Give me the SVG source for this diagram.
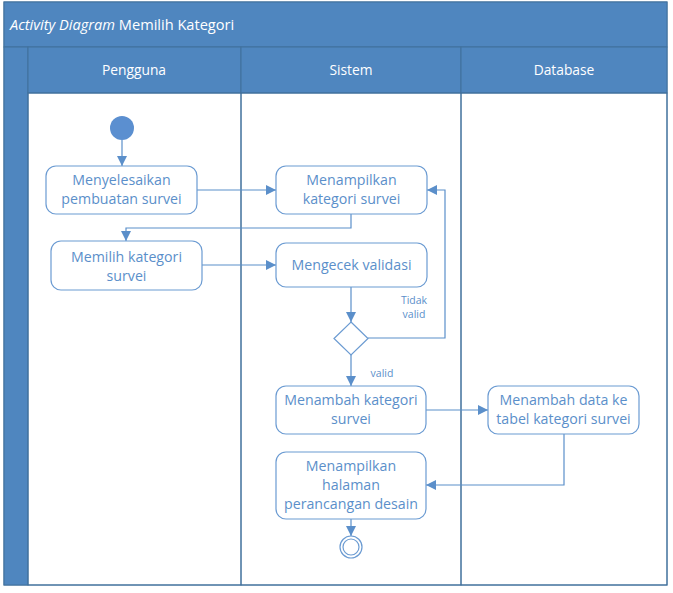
<svg xmlns="http://www.w3.org/2000/svg" width="673" height="593" viewBox="0 0 673 593">
<style>
.hdr{fill:#4f86bf;stroke:#41719c;stroke-width:1}
.ht{font-family:"Open Sans","Liberation Sans",sans-serif;font-size:13.8px;fill:#ffffff;text-anchor:middle}
.node{fill:#ffffff;stroke:#6b9bd2;stroke-width:1.2}
.nt{font-family:"Open Sans","Liberation Sans",sans-serif;font-size:14.2px;fill:#5b8fca;text-anchor:middle}
.lbl{font-family:"Open Sans","Liberation Sans",sans-serif;font-size:10.5px;fill:#5b8fca;text-anchor:middle}
.cn{fill:none;stroke:#5b8fca;stroke-width:1.2}
</style>
<defs>
<marker id="arr" viewBox="0 0 10 10" refX="10" refY="5" markerWidth="10" markerHeight="10" markerUnits="userSpaceOnUse" orient="auto">
<path d="M0,0 L10,5 L0,10 z" fill="#5b8fca"/>
</marker>
</defs>
<rect x="0" y="0" width="673" height="593" fill="#ffffff"/>
<g id="frame">
<rect x="4" y="2" width="663" height="583" fill="#ffffff" stroke="#41719c" stroke-width="1"/>
<rect class="hdr" x="4" y="2" width="663" height="45"/>
<text x="10" y="30" font-family="'Open Sans','Liberation Sans',sans-serif" font-size="14.6" fill="#ffffff"><tspan font-style="italic">Activity Diagram</tspan> Memilih Kategori</text>
<rect class="hdr" x="4" y="47" width="24" height="538"/>
</g>
<g id="lane-pengguna">
<rect class="hdr" x="28" y="47" width="213" height="46"/>
<text class="ht" x="134" y="75">Pengguna</text>
<rect x="28" y="93" width="213" height="492" fill="none" stroke="#41719c" stroke-width="1"/>
</g>
<g id="lane-sistem">
<rect class="hdr" x="241" y="47" width="220" height="46"/>
<text class="ht" x="351" y="75">Sistem</text>
<rect x="241" y="93" width="220" height="492" fill="none" stroke="#41719c" stroke-width="1"/>
</g>
<g id="lane-database">
<rect class="hdr" x="461" y="47" width="206" height="46"/>
<text class="ht" x="564" y="75">Database</text>
<rect x="461" y="93" width="206" height="492" fill="none" stroke="#41719c" stroke-width="1"/>
</g>
<g id="connectors">
<path class="cn" d="M122,140 V166" marker-end="url(#arr)"/>
<path class="cn" d="M197,190 H276" marker-end="url(#arr)"/>
<path class="cn" d="M351,214 V228 H126 V241" marker-end="url(#arr)"/>
<path class="cn" d="M202,265 H276" marker-end="url(#arr)"/>
<path class="cn" d="M351,287 V322" marker-end="url(#arr)"/>
<path class="cn" d="M368,338 H445 V190 H427" marker-end="url(#arr)"/>
<path class="cn" d="M351,355 V386" marker-end="url(#arr)"/>
<path class="cn" d="M426,410 H488" marker-end="url(#arr)"/>
<path class="cn" d="M564,434 V485 H426" marker-end="url(#arr)"/>
<path class="cn" d="M351,519 V536" marker-end="url(#arr)"/>
<text class="lbl" x="414" y="304">Tidak</text>
<text class="lbl" x="414" y="318">valid</text>
<text class="lbl" x="382" y="377">valid</text>
</g>
<g id="start">
<circle cx="122" cy="128" r="12" fill="#5b8fd0"/>
</g>
<g id="n1">
<rect class="node" x="46" y="166" width="151" height="48" rx="10"/>
<text class="nt" x="121.5" y="185">Menyelesaikan</text>
<text class="nt" x="121.5" y="204">pembuatan survei</text>
</g>
<g id="n2">
<rect class="node" x="276" y="166" width="151" height="48" rx="10"/>
<text class="nt" x="351.5" y="185">Menampilkan</text>
<text class="nt" x="351.5" y="204">kategori survei</text>
</g>
<g id="n3">
<rect class="node" x="51" y="241" width="151" height="49" rx="10"/>
<text class="nt" x="126.5" y="262">Memilih kategori</text>
<text class="nt" x="126.5" y="281">survei</text>
</g>
<g id="n4">
<rect class="node" x="276" y="243" width="151" height="44" rx="10"/>
<text class="nt" x="351.5" y="270">Mengecek validasi</text>
</g>
<g id="decision">
<path class="node" d="M351,322 L368,338.5 L351,355 L334,338.5 Z"/>
</g>
<g id="n5">
<rect class="node" x="276" y="386" width="150" height="48" rx="10"/>
<text class="nt" x="351" y="405">Menambah kategori</text>
<text class="nt" x="351" y="424">survei</text>
</g>
<g id="n6">
<rect class="node" x="488" y="386" width="151" height="48" rx="10"/>
<text class="nt" x="563.5" y="405">Menambah data ke</text>
<text class="nt" x="563.5" y="424">tabel kategori survei</text>
</g>
<g id="n7">
<rect class="node" x="276" y="452" width="150" height="67" rx="10"/>
<text class="nt" x="351" y="471">Menampilkan</text>
<text class="nt" x="351" y="490">halaman</text>
<text class="nt" x="351" y="509">perancangan desain</text>
</g>
<g id="end">
<circle cx="351" cy="547" r="11" fill="#ffffff" stroke="#6b9bd2" stroke-width="1.2"/>
<circle cx="351" cy="547" r="8" fill="#ffffff" stroke="#6b9bd2" stroke-width="1.2"/>
</g>
</svg>
